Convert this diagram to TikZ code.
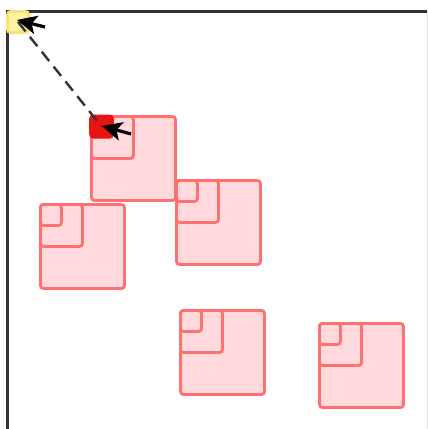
\documentclass[tikz,border=0pt]{standalone}
\usepackage{xcolor}
\usetikzlibrary{arrows.meta}
\definecolor{boxline}{RGB}{255,112,112}
\definecolor{boxfill}{RGB}{255,217,219}
\definecolor{hitred}{RGB}{230,20,20}
\definecolor{goalfill}{RGB}{255,244,163}
\definecolor{goalline}{RGB}{250,224,120}
\definecolor{frameline}{RGB}{51,51,51}

\begin{document}
\begin{tikzpicture}[
  x=1pt, y=-1pt,
  sq/.style={draw=boxline, fill=boxfill, line width=2.8pt, rounded corners=3pt,
             anchor=north west, inner sep=0pt, outer sep=0pt},
  outer/.style={sq, minimum size=84pt},
  middle/.style={sq, minimum size=42pt},
  inner/.style={sq, minimum size=21pt},
  pointer/.style={-{Stealth[length=20pt, width=19pt, inset=5pt, fill=black, line width=1pt]}, line width=3.2pt, black},
  trail/.style={draw=frameline, line width=2.4pt, dash pattern=on 12pt off 7pt}
]
  \useasboundingbox (0,0) rectangle (428,429);

  % frame
  \draw[line width=3pt, frameline] (7,430) -- (7,11) -- (427,11);
  \draw[line width=0.8pt, black!12] (427.5,11) -- (427.5,429);

  % nested square groups
  \foreach \name/\x/\y in {B/176.5/180.5, A/91.5/116.5, C/40.5/204.5, D/180.5/310.5, E/319.5/323.5} {
    \node[outer]  (\name-out) at (\x,\y) {};
    \node[middle] (\name-mid) at (\x,\y) {};
    \node[inner]  (\name-in)  at (\x,\y) {};
  }

  % start cell and goal cell
  \node[sq, draw=goalline, fill=goalfill, minimum size=21pt] (goal) at (7.5,11.5) {};
  \node[sq, draw=hitred, fill=hitred, minimum width=22pt, minimum height=21pt] (hit) at (90.5,116) {};

  % path between them
  \draw[trail] (goal.center) -- (hit.center);

  % pointers
  \coordinate (goal-ptr) at (45,27);
  \coordinate (hit-ptr) at (131,134);
  \draw[pointer] (goal-ptr) -- (17,20);
  \draw[pointer] (hit-ptr) -- (102,126);
\end{tikzpicture}
\end{document}
